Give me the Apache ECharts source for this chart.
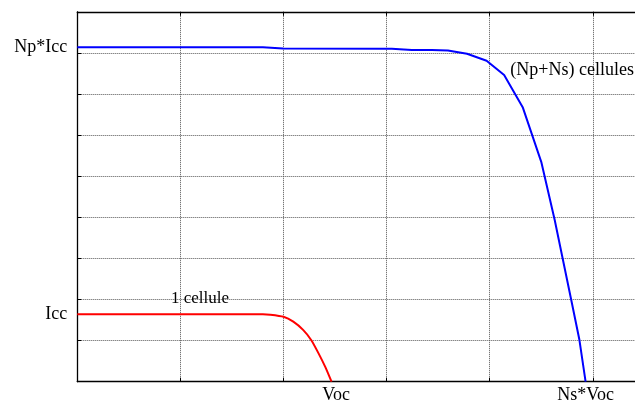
<!DOCTYPE html>
<html>
<head>
<meta charset="utf-8">
<script src="https://cdn.jsdelivr.net/npm/echarts@6/dist/echarts.min.js"></script>
<style>
  html, body { margin: 0; padding: 0; background: #ffffff; }
  #chart { width: 635px; height: 405px; }
</style>
</head>
<body>
<div id="chart"></div>
<script>
// courbe 1 cellule (rouge)
var redX = [0, 1.80, 1.87, 2.00, 2.095, 2.19, 2.27, 2.34, 2.405, 2.466];
var redY = [1.64, 1.64, 1.63, 1.58, 1.46, 1.26, 1.01, 0.69, 0.36, 0];
// courbe (Np+Ns) cellules (bleue)
var blueX = [0, 1.80, 1.995, 3.05, 3.245, 3.44, 3.595, 3.78, 3.97, 4.14, 4.32, 4.50, 4.63, 4.79, 4.87, 4.93];
var blueY = [8.14, 8.14, 8.11, 8.10, 8.07, 8.07, 8.06, 7.98, 7.81, 7.46, 6.68, 5.35, 3.94, 2.00, 1.02, 0];

var xTickValues = [2.51, 4.93];
var xTickLabels = ['Voc', 'Ns*Voc'];
var yTickValues = [1.64, 8.14];
var yTickLabels = ['Icc', 'Np*Icc'];

var notes = [
  {name: '1 cellule', coord: [1.19, 2.03], align: 'center'},
  {name: '(Np+Ns) cellules', coord: [4.20, 7.58], align: 'left'}
];

function toPairs(xs, ys) {
  var out = [];
  for (var i = 0; i < xs.length; i++) out.push([xs[i], ys[i]]);
  return out;
}

function labelFor(values, labels) {
  return function (v) {
    for (var i = 0; i < values.length; i++) {
      if (Math.abs(values[i] - v) < 1e-6) return labels[i];
    }
    return '';
  };
}

var chart = echarts.init(document.getElementById('chart'));
var serif = '"Liberation Serif", "DejaVu Serif", serif';

var option = {
  animation: false,
  backgroundColor: '#ffffff',
  grid: {
    left: 77.3,
    right: -60.9,
    top: 11.8,
    bottom: 23.3,
    containLabel: false,
    outerBoundsMode: 'none'
  },
  xAxis: [
    {
      type: 'value',
      min: 0,
      max: 6,
      interval: 1,
      position: 'bottom',
      axisLine: {show: true, lineStyle: {color: '#000', width: 1.3}},
      axisTick: {show: true, inside: true, length: 4, lineStyle: {color: '#000'}},
      axisLabel: {
        show: true,
        customValues: xTickValues,
        formatter: labelFor(xTickValues, xTickLabels),
        color: '#000',
        fontFamily: serif,
        fontSize: 18,
        margin: 5
      },
      splitLine: {show: true, lineStyle: {color: '#555', type: 'dotted', width: 1}}
    },
    {
      type: 'value',
      min: 0,
      max: 6,
      interval: 1,
      position: 'top',
      axisLine: {show: true, lineStyle: {color: '#000', width: 1.3}},
      axisTick: {show: true, inside: true, length: 4, lineStyle: {color: '#000'}},
      axisLabel: {show: false},
      splitLine: {show: false}
    }
  ],
  yAxis: {
    type: 'value',
    min: 0,
    max: 9,
    interval: 1,
    axisLine: {show: true, lineStyle: {color: '#000', width: 1.3}},
    axisTick: {show: true, inside: true, length: 4, lineStyle: {color: '#000'}},
    axisLabel: {
      show: true,
      customValues: yTickValues,
      formatter: labelFor(yTickValues, yTickLabels),
      color: '#000',
      fontFamily: serif,
      fontSize: 18,
      margin: 10
    },
    splitLine: {show: true, lineStyle: {color: '#555', type: 'dotted', width: 1}}
  },
  series: [
    {
      name: '1 cellule',
      type: 'line',
      data: toPairs(redX, redY),
      symbol: 'none',
      smooth: 0.2,
      lineStyle: {color: '#ff0000', width: 2},
      markPoint: {
        symbol: 'circle',
        symbolSize: 0,
        label: {show: true, color: '#000', fontFamily: serif, fontSize: 17,
          formatter: function (p) { return p.name; }},
        data: [{name: notes[0].name, coord: notes[0].coord,
          label: {align: notes[0].align, verticalAlign: 'middle'}}]
      }
    },
    {
      name: '(Np+Ns) cellules',
      type: 'line',
      data: toPairs(blueX, blueY),
      symbol: 'none',
      lineStyle: {color: '#0000ff', width: 2},
      markPoint: {
        symbol: 'circle',
        symbolSize: 0,
        label: {show: true, color: '#000', fontFamily: serif, fontSize: 18,
          formatter: function (p) { return p.name; }},
        data: [{name: notes[1].name, coord: notes[1].coord,
          label: {align: notes[1].align, verticalAlign: 'middle'}}]
      }
    }
  ]
};

chart.setOption(option);
</script>
</body>
</html>
